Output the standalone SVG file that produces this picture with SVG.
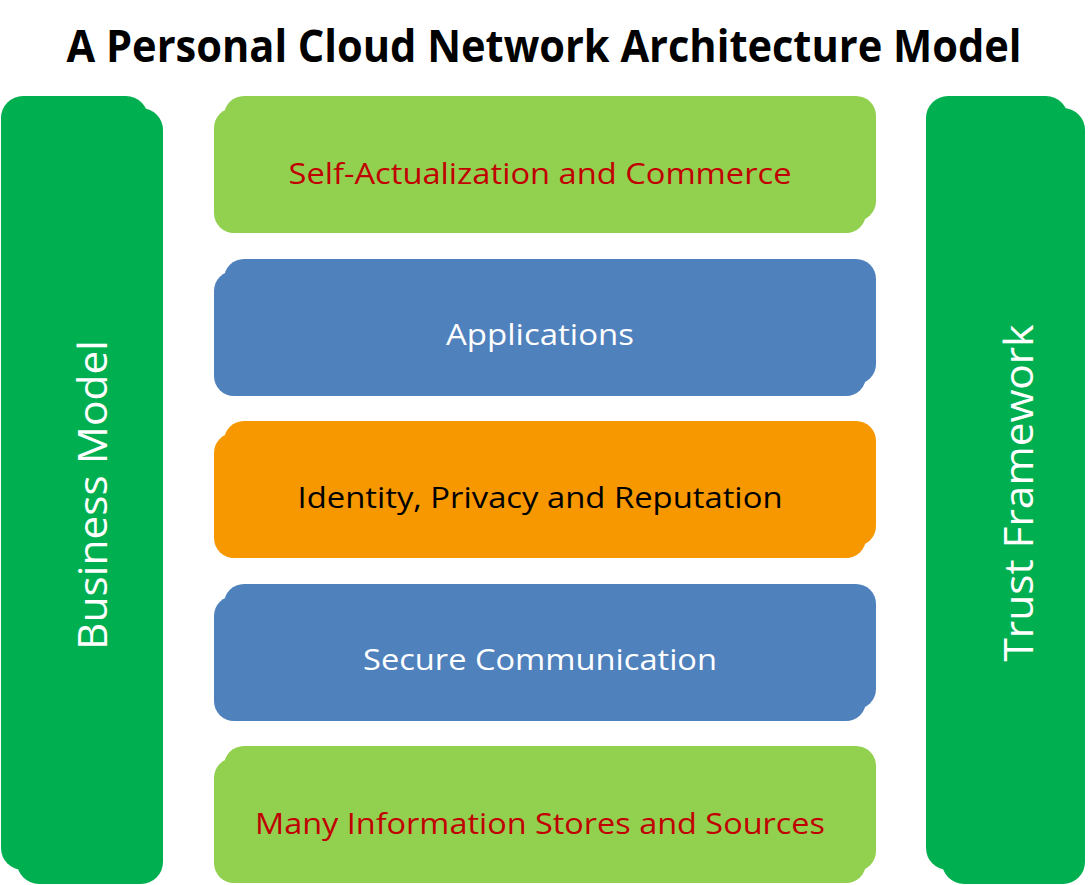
<svg xmlns="http://www.w3.org/2000/svg" width="1089" height="885" viewBox="0 0 1089 885">
<style>
.bar{fill:#00AF50}
.lg{fill:#92D050}
.bl{fill:#4F81BD}
.or{fill:#F79800}
.t{font-family:"Open Sans","Liberation Sans",sans-serif;text-anchor:middle}
.m{font-size:29px}
.red{fill:#C00000}
.wh{fill:#FFFFFF}
.bk{fill:#000000}
.v{font-size:41px;fill:#FFFFFF}
</style>
<rect width="1089" height="885" fill="#FFFFFF"/>
<text class="t bk" x="544" y="62" font-size="44" font-weight="bold" textLength="955" lengthAdjust="spacingAndGlyphs">A Personal Cloud Network Architecture Model</text>
<g id="business-model">
<rect class="bar" x="1" y="96" width="147" height="774" rx="22"/>
<rect class="bar" x="17" y="108" width="146" height="776" rx="22"/>
<text class="t v" transform="translate(107,495) rotate(-90)" textLength="310" lengthAdjust="spacingAndGlyphs">Business Model</text>
</g>
<g id="trust-framework">
<rect class="bar" x="926" y="96" width="142" height="774" rx="22"/>
<rect class="bar" x="942" y="108" width="143" height="776" rx="22"/>
<text class="t v" transform="translate(1033,493) rotate(-90)" textLength="337" lengthAdjust="spacingAndGlyphs">Trust Framework</text>
</g>
<g id="self-actualization">
<rect class="lg" x="224" y="96" width="652" height="125" rx="20"/>
<rect class="lg" x="214" y="108" width="652" height="125" rx="20"/>
<text class="t m red" x="540" y="184" textLength="503" lengthAdjust="spacingAndGlyphs">Self-Actualization and Commerce</text>
</g>
<g id="applications">
<rect class="bl" x="224" y="259" width="652" height="125" rx="20"/>
<rect class="bl" x="214" y="271" width="652" height="125" rx="20"/>
<text class="t m wh" x="540" y="345" textLength="188" lengthAdjust="spacingAndGlyphs">Applications</text>
</g>
<g id="identity">
<rect class="or" x="224" y="421" width="652" height="125" rx="20"/>
<rect class="or" x="214" y="433" width="652" height="125" rx="20"/>
<text class="t m bk" x="540" y="508" textLength="485" lengthAdjust="spacingAndGlyphs">Identity, Privacy and Reputation</text>
</g>
<g id="secure-communication">
<rect class="bl" x="224" y="584" width="652" height="125" rx="20"/>
<rect class="bl" x="214" y="596" width="652" height="125" rx="20"/>
<text class="t m wh" x="540" y="670" textLength="354" lengthAdjust="spacingAndGlyphs">Secure Communication</text>
</g>
<g id="information-stores">
<rect class="lg" x="224" y="746" width="652" height="125" rx="20"/>
<rect class="lg" x="214" y="758" width="652" height="125" rx="20"/>
<text class="t m red" x="540" y="834" textLength="570" lengthAdjust="spacingAndGlyphs">Many Information Stores and Sources</text>
</g>
<g id="connectors"></g>
</svg>
